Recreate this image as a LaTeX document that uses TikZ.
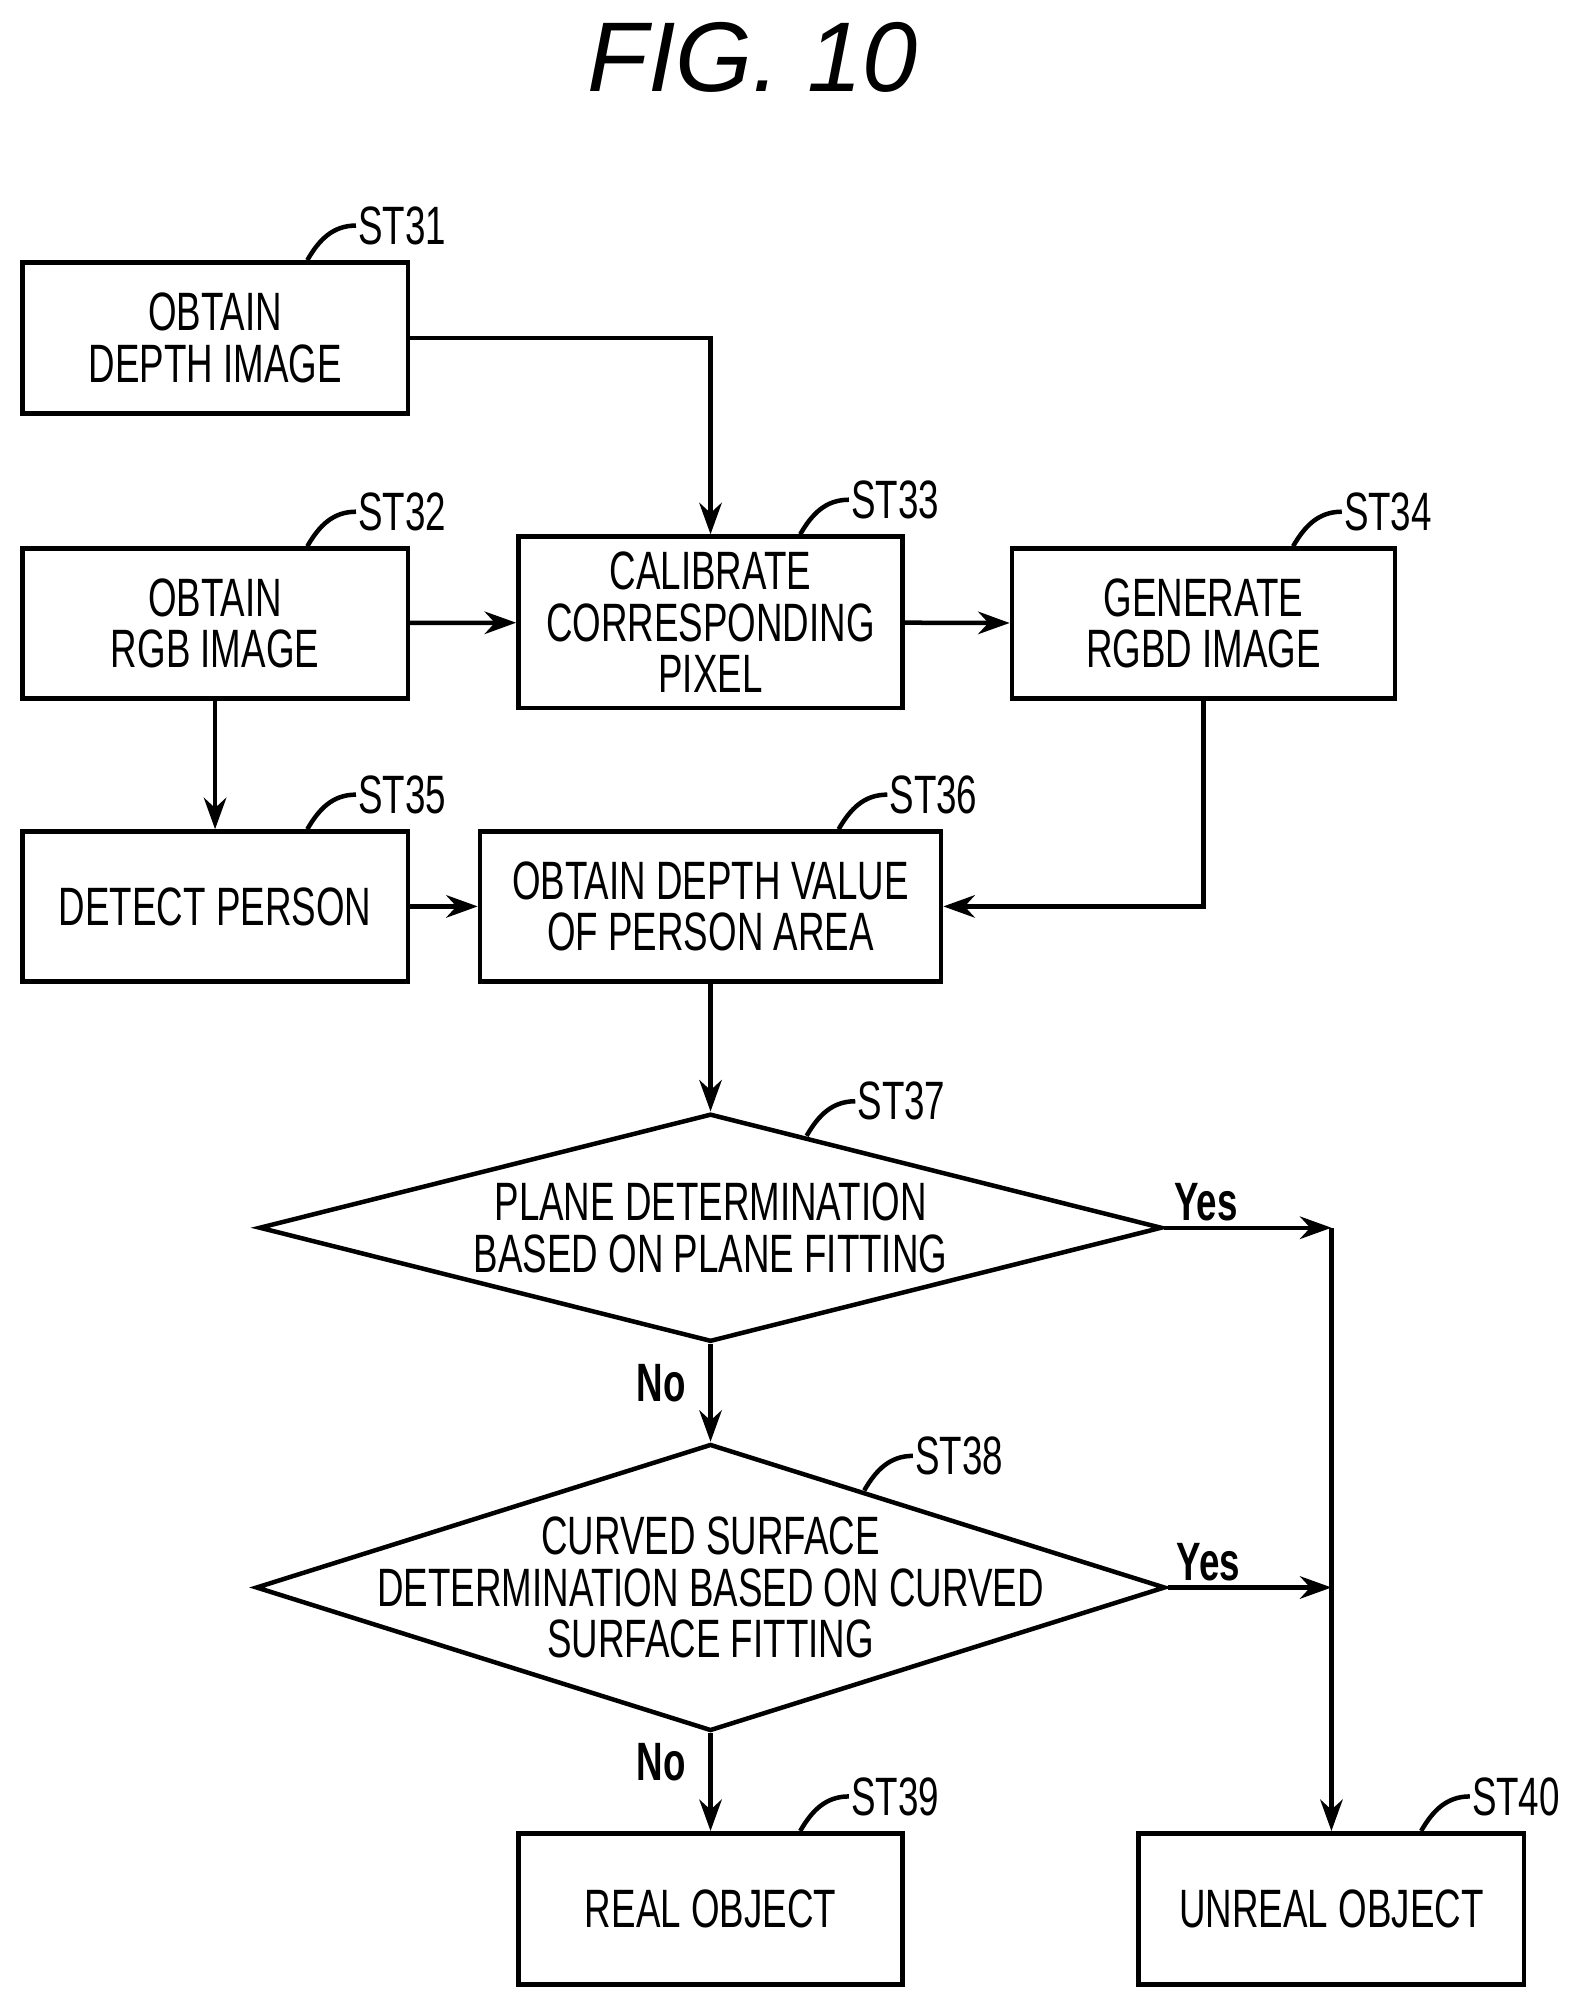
\documentclass[tikz,border=0pt]{standalone}
\usepackage{fontspec}
\setmainfont{Liberation Sans}[FakeStretch=0.68]
\newfontfamily\titlefont{Liberation Sans}
\usetikzlibrary{positioning,shapes.geometric,arrows.meta}

\tikzset{
  stepbox/.style={draw,line width=1pt,align=center,font=\fontsize{12}{11.5}\selectfont},
  steplbl/.style={font=\fontsize{12}{12}\selectfont,inner sep=0pt},
  yesno/.style={font=\fontsize{12}{12}\selectfont\bfseries,inner sep=1pt},
}
\newcommand\stlabel[5]{%
  \coordinate (#4s) at ([shift={(#2,#3)}]#1);
  \node[steplbl,anchor=west] (#4) at ([shift={(0.38cm,0.27cm)}]#4s) {#5};
  \draw[line width=1pt] (#4s) to[out=60,in=180] (#4.west);}

\begin{document}
\begin{tikzpicture}[x=0.01cm,y=-0.01cm,>={Stealth[length=7pt,width=5pt]},line width=1pt]
  \useasboundingbox (0,0) rectangle (1240,1563);
  \node[font=\titlefont\itshape\fontsize{22}{22}\selectfont] (title) at (588,45) {FIG. 10};

  \node[stepbox,minimum width=3.01cm,minimum height=1.18cm] (b31) at (168,264) {OBTAIN\\DEPTH IMAGE};
  \node[stepbox,minimum width=3.01cm,minimum height=1.17cm] (b32) at (168,487) {OBTAIN\\RGB IMAGE};
  \node[stepbox,minimum width=3.00cm,minimum height=1.32cm] (b33) at (555,486) {CALIBRATE\\CORRESPONDING\\PIXEL};
  \node[stepbox,minimum width=2.99cm,minimum height=1.17cm] (b34) at (940,487) {GENERATE\\RGBD IMAGE};
  \node[stepbox,minimum width=3.01cm,minimum height=1.17cm] (b35) at (168,708) {DETECT PERSON};
  \node[stepbox,minimum width=3.60cm,minimum height=1.17cm] (b36) at (555,708) {OBTAIN DEPTH VALUE\\OF PERSON AREA};

  \node[draw,diamond,minimum width=7.05cm,minimum height=1.78cm,inner sep=0pt] (d37) at (555,959) {};
  \node[stepbox,draw=none] (t37) at (d37) {PLANE DETERMINATION\\BASED ON PLANE FITTING};
  \node[draw,diamond,minimum width=7.10cm,minimum height=2.24cm,inner sep=0pt] (d38) at (555,1240) {};
  \node[stepbox,draw=none] (t38) at (d38) {CURVED SURFACE\\DETERMINATION BASED ON CURVED\\SURFACE FITTING};

  \node[stepbox,minimum width=3.00cm,minimum height=1.18cm] (b39) at (555,1491) {REAL OBJECT};
  \node[stepbox,minimum width=3.01cm,minimum height=1.18cm] (b40) at (1040,1491) {UNREAL OBJECT};

  \stlabel{b31.north}{0.72cm}{0cm}{l31}{ST31}
  \stlabel{b32.north}{0.72cm}{0cm}{l32}{ST32}
  \stlabel{b33.north}{0.70cm}{0cm}{l33}{ST33}
  \stlabel{b34.north}{0.70cm}{0cm}{l34}{ST34}
  \stlabel{b35.north}{0.72cm}{0cm}{l35}{ST35}
  \stlabel{b36.north}{1.00cm}{0cm}{l36}{ST36}
  \stlabel{d37.north}{0.75cm}{-0.19cm}{l37}{ST37}
  \stlabel{d38.north}{1.20cm}{-0.38cm}{l38}{ST38}
  \stlabel{b39.north}{0.70cm}{0cm}{l39}{ST39}
  \stlabel{b40.north}{0.70cm}{0cm}{l40}{ST40}

  \coordinate (j37) at (1040,959);
  \coordinate (j38) at (1040,1240);

  \draw[->] (b31.east) -| (b33.north);
  \draw[->] (b32) -- (b33);
  \draw[->] (b33) -- (b34);
  \draw[->] (b32) -- (b35);
  \draw[->] (b35) -- (b36);
  \draw[->] (b34.south) |- (b36.east);
  \draw[->] (b36) -- (d37.north);
  \draw[->] (d37.east) -- node[yesno,above,pos=0.25] (y37) {Yes} (j37);
  \draw[->] (d38.east) -- node[yesno,above,pos=0.25] (y38) {Yes} (j38);
  \draw[->] (j37) -- (b40.north);
  \draw[->] (d37.south) -- node[yesno,left=4pt,pos=0.4] (n37) {No} (d38.north);
  \draw[->] (d38.south) -- node[yesno,left=4pt,pos=0.3] (n38) {No} (b39.north);
\end{tikzpicture}
\end{document}
